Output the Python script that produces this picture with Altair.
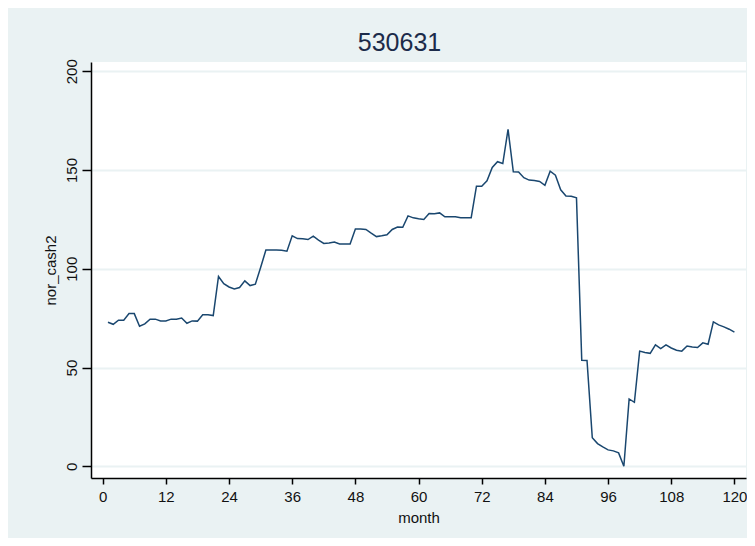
import altair as alt
import pandas as pd

months = list(range(1, 121))
nor_cash2 = [
    72.9, 71.9, 74.0, 74.0, 77.3, 77.3, 70.9, 72.1, 74.5, 74.5,
    73.6, 73.6, 74.5, 74.5, 75.1, 72.4, 73.6, 73.5, 76.7, 76.7,
    76.3, 96.1, 92.5, 90.8, 89.8, 90.5, 93.9, 91.5, 92.2, 100.6,
    109.5, 109.5, 109.5, 109.4, 108.9, 116.7, 115.3, 115.2, 114.8, 116.5,
    114.5, 112.8, 113.1, 113.5, 112.6, 112.6, 112.6, 120.1, 120.1, 119.9,
    118.0, 116.3, 116.7, 117.2, 119.9, 121.1, 121.0, 126.8, 125.8, 125.3,
    125.0, 128.0, 127.9, 128.3, 126.3, 126.3, 126.3, 125.9, 125.9, 125.9,
    141.8, 141.8, 144.5, 151.3, 154.2, 153.3, 170.6, 149.1, 149.0, 146.1,
    144.9, 144.7, 144.2, 142.3, 149.4, 147.4, 140.0, 136.9, 136.7, 135.9,
    53.7, 53.6, 14.5, 11.5, 9.8, 8.3, 7.8, 6.8, 0.0, 34.1,
    32.4, 58.3, 57.6, 57.2, 61.5, 59.6, 61.5, 59.9, 58.8, 58.3,
    60.9, 60.4, 60.1, 62.5, 61.8, 73.1, 71.6, 70.6, 69.4, 67.9,
]
x_ticks = [0, 12, 24, 36, 48, 60, 72, 84, 96, 108, 120]
y_ticks = [0, 50, 100, 150, 200]

df = pd.DataFrame({"month": months, "nor_cash2": nor_cash2})

FONT = "Liberation Sans"
BG = "#EAF2F3"

chart = (
    alt.Chart(df, title=alt.Title("530631", fontSize=25, font=FONT, fontWeight="normal",
                                  color="#1c2b4a", anchor="middle", offset=3, dx=-19))
    .mark_line(color="#1A476F", strokeWidth=1.5)
    .encode(
        x=alt.X("month:Q",
                scale=alt.Scale(domain=[-2.22, 122.2], nice=False, zero=False),
                axis=alt.Axis(values=x_ticks, title="month", grid=False,
                              domainColor="black", domainWidth=1.5,
                              tickColor="black", tickWidth=1.5, tickSize=6,
                              labelFont=FONT, labelFontSize=15, labelColor="#111",
                              labelPadding=5, titleFont=FONT, titleFontSize=15,
                              titleFontWeight="normal", titleColor="#111",
                              titlePadding=6, labelFlush=False)),
        y=alt.Y("nor_cash2:Q",
                scale=alt.Scale(domain=[-5.93, 204.7], nice=False, zero=False),
                axis=alt.Axis(values=y_ticks, title="nor_cash2", grid=True,
                              gridColor=BG, gridWidth=2,
                              domainColor="black", domainWidth=1.5,
                              tickColor="black", tickWidth=1.5, tickSize=9,
                              labelFont=FONT, labelFontSize=15, labelColor="#111",
                              labelAngle=270, labelAlign="center", labelBaseline="bottom",
                              labelPadding=3, titleFont=FONT, titleFontSize=15,
                              titleFontWeight="normal", titleColor="#111",
                              titlePadding=6, labelFlush=False)),
    )
    .properties(
        width=655,
        height=416,
        background=BG,
        autosize=alt.AutoSizeParams(type="none"),
        padding={"left": 83, "top": 54, "right": 1, "bottom": 60},
    )
    .configure_view(fill="white", stroke=None)
)

chart.save("out.html", embed_options={"renderer": "svg", "actions": False})
